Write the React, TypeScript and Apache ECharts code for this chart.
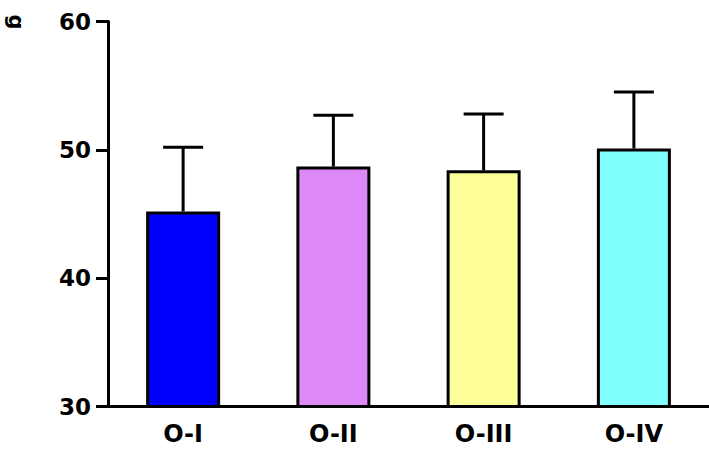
import React, { useEffect, useRef } from "react";
import * as echarts from "echarts";

const categories = ["O-I", "O-II", "O-III", "O-IV"];
const means = [45.2, 48.7, 48.4, 50.1];
const sds = [5.0, 4.0, 4.4, 4.4];
const barColors = ["#0000ff", "#dd88f7", "#ffff99", "#80ffff"];
const yTicks = { min: 30, max: 60, interval: 10 };
const yName = "g";

const FONT = "'DejaVu Sans', 'Liberation Sans', Arial, sans-serif";

export default function App() {
  const ref = useRef<HTMLDivElement>(null);
  useEffect(() => {
    if (!ref.current) return;
    const chart = echarts.init(ref.current, null, { renderer: "svg" });
    const errData = means.map((m, i) => [i, m, m + sds[i]]);
    chart.setOption({
      animation: false,
      backgroundColor: "#ffffff",
      grid: { left: 108, top: 21.5, bottom: 42.5, width: 609 },
      graphic: [
        {
          type: "text",
          x: 16,
          y: 22,
          rotation: -Math.PI / 2,
          style: {
            text: yName,
            font: `bold 21px ${FONT}`,
            fill: "#000",
            align: "center",
            verticalAlign: "middle",
          },
        },
      ],
      xAxis: {
        type: "category",
        data: categories,
        axisLine: { lineStyle: { color: "#000", width: 3 } },
        axisTick: { show: false },
        axisLabel: {
          color: "#000",
          fontFamily: FONT,
          fontWeight: "bold",
          fontSize: 24,
          margin: 15,
        },
      },
      yAxis: {
        type: "value",
        min: yTicks.min,
        max: yTicks.max,
        interval: yTicks.interval,
        splitLine: { show: false },
        axisLine: { show: true, lineStyle: { color: "#000", width: 3 } },
        axisTick: { show: true, length: 12, lineStyle: { color: "#000", width: 3 } },
        axisLabel: {
          color: "#000",
          fontFamily: FONT,
          fontWeight: "bold",
          fontSize: 23,
          margin: 17,
        },
      },
      series: [
        {
          type: "bar",
          barWidth: 74,
          data: means.map((m, i) => ({
            value: m,
            itemStyle: {
              color: barColors[i],
              borderColor: "#000",
              borderWidth: 3,
            },
          })),
          z: 2,
        },
        {
          type: "custom",
          z: 3,
          data: errData,
          encode: { x: 0, y: [1, 2] },
          renderItem: (params: any, api: any) => {
            const x = api.value(0);
            const lo = api.coord([x, api.value(1)]);
            const hi = api.coord([x, api.value(2)]);
            const half = 20;
            const style = { stroke: "#000", lineWidth: 3, fill: "none" };
            return {
              type: "group",
              children: [
                {
                  type: "line",
                  shape: { x1: lo[0], y1: lo[1], x2: hi[0], y2: hi[1] },
                  style,
                },
                {
                  type: "line",
                  shape: { x1: hi[0] - half, y1: hi[1], x2: hi[0] + half, y2: hi[1] },
                  style,
                },
              ],
            };
          },
        },
      ],
    });
    return () => chart.dispose();
  }, []);
  return <div ref={ref} style={{ width: 709, height: 449, position: "absolute", left: 0, top: 0 }} />;
}
